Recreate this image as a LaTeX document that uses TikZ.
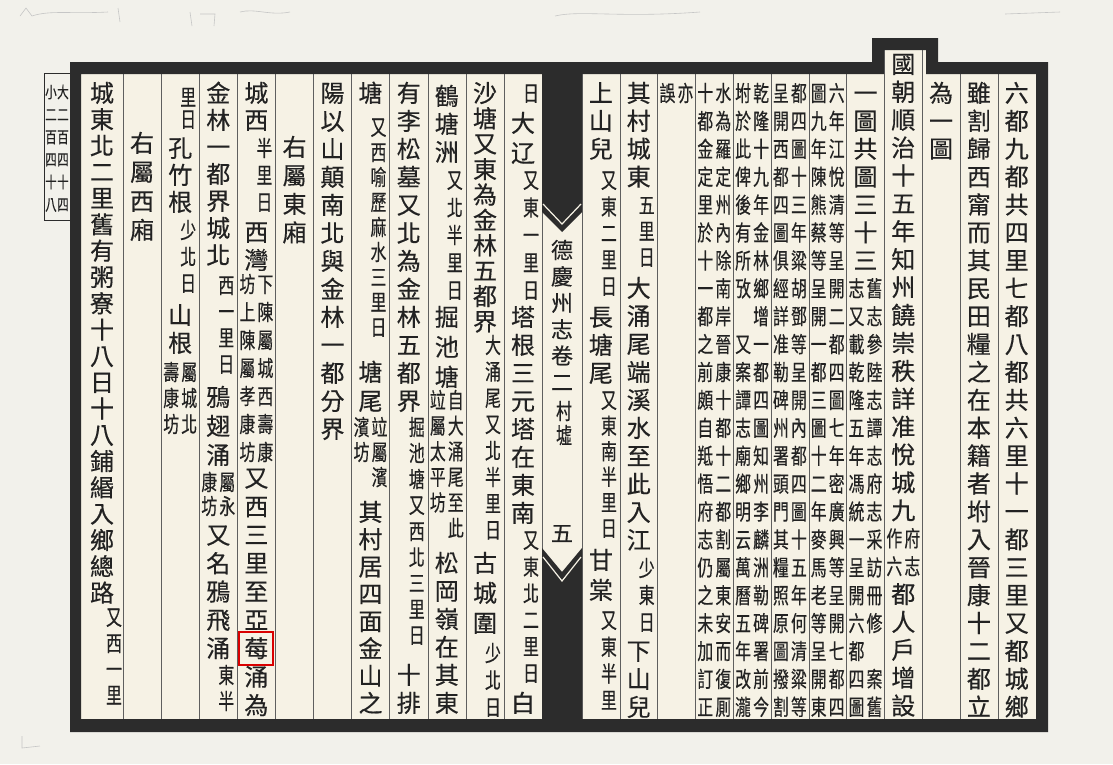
\documentclass[tikz,border=0pt]{standalone}
\usepackage{fontspec}
\newfontfamily\cjk[FakeBold=0.4]{Noto Sans CJK TC}
\newfontfamily\cjkn[FakeStretch=0.72,FakeBold=0.4]{Noto Sans CJK TC}
\usetikzlibrary{calc}
\tikzset{>=latex}
\definecolor{pagebg}{RGB}{242,241,235}
\definecolor{paper}{RGB}{246,242,229}
\definecolor{ink}{RGB}{34,34,34}
\definecolor{framegray}{RGB}{44,44,44}
\definecolor{rulegray}{RGB}{95,95,95}

% vertical column of characters: \vcol[pitch]{x}{y of first}{style}{text}
\newcount\vcn
\def\vcolend{\vcolend}
\newcommand\vcol[5][27.9]{%
  \def\vcp{#1}\def\vcx{#2}\def\vcy{#3}%
  \tikzset{vcur/.style={#4}}%
  \vcolnext#5\vcolend}
\def\vcolnext#1{%
  \ifx#1\vcolend \let\vcolgo\relax
  \else \def\vcolgo{\vcolput{#1}\vcolnext}\fi
  \vcolgo}
\def\vcolput#1{%
  \global\advance\vcn by 1
  \node[vcur] (ch\the\vcn) at (\vcx,\vcy) {#1};
  \pgfmathsetmacro\vcy{\vcy+\vcp}}

\tikzset{
  bigch/.style={font={\cjk\fontsize{24pt}{24pt}\selectfont}, text=ink, inner sep=0pt, text height=21pt, text depth=3pt},
  smallch/.style={font={\cjkn\fontsize{22pt}{22pt}\selectfont}, text=ink, inner sep=0pt, text height=19.4pt, text depth=2.6pt},
  titlech/.style={font={\cjk\fontsize{22pt}{22pt}\selectfont}, text=ink, inner sep=0pt, text height=19.4pt, text depth=2.6pt},
  tinych/.style={font={\cjkn\fontsize{16pt}{16pt}\selectfont}, text=ink, inner sep=0pt, text height=14pt, text depth=2pt},
  colrule/.style={rulegray, line width=0.6pt},
  pencil/.style={gray!45, line width=0.6pt},
  markbox/.style={draw=red!85!black, line width=1.5pt},
}

\begin{document}
\begin{tikzpicture}[x=1pt,y=-1pt]
  \useasboundingbox (0,0) rectangle (1113,764);
  \fill[pagebg] (0,0) rectangle (1113,764);
  % paper inside the frame
  \fill[paper] (81,74) -- (884,74) -- (884,50) -- (926,50) -- (926,74) -- (1036,74) -- (1036,719) -- (81,719) -- cycle;

  % column rules
  \foreach \k in {0,...,11} \draw[colrule] ({123+38.1*\k},74) -- ++(0,645);
  \foreach \k in {0,1,2,3,4,5,6,7,10,11} \draw[colrule] ({582+37.8*\k},74) -- ++(0,645);
  \draw[colrule] (884.4,50) -- (884.4,719);
  \draw[colrule] (922.2,50) -- (922.2,719);

  % thick frame, raised over the honorific column
  \fill[framegray, even odd rule] (70,62) -- (872,62) -- (872,38) -- (938,38) -- (938,62) -- (1048,62) -- (1048,732) -- (70,732) -- cycle
    (81,74) -- (884,74) -- (884,50) -- (926,50) -- (926,74) -- (1036,74) -- (1036,719) -- (81,719) -- cycle;

  % centre strip with the two fish tails
  \fill[framegray] (542,74) -- (582,74) -- (582,212) -- (562,232) -- (542,212) -- cycle;
  \draw[paper, line width=1.2pt] (543,204) -- (562,224) -- (581,204);
  \fill[framegray] (542,719) -- (542,548) -- (562,572) -- (582,548) -- (582,719) -- cycle;
  \draw[paper, line width=1.2pt] (543,557) -- (562,581) -- (581,557);
  \vcol[26.4]{562}{250}{titlech}{德慶州志卷二}
  \vcol[24]{564}{411}{smallch}{村墟}
  \node[titlech] (pageno) at (562,533) {五};

  %% right page
  \vcol{1016.7}{93}{bigch}{六都九都共四里七都八都共六里十一都三里又都城鄉}
  \vcol{978.9}{93}{bigch}{雖割歸西甯而其民田糧之在本籍者坿入晉康十二都立}
  \vcol{941.1}{93}{bigch}{為一圖}
  \vcol{903.3}{64}{bigch}{國朝順治十五年知州饒崇秩詳准悅城九}
  \vcol{912.3}{538.3}{smallch}{府志}
  \vcol{894.3}{538.3}{smallch}{作六}
  \vcol{903.3}{594.1}{bigch}{都人戶增設}
  \vcol{865.5}{93}{bigch}{一圖共圖三十三}
  \vcol{874.5}{288.3}{smallch}{舊志參陸志譚志府志采訪冊修~案舊}
  \vcol{856.5}{288.3}{smallch}{志又載乾隆五年馮統一呈開六都四圖}
  \vcol{836.7}{93}{smallch}{六年江悅清等呈開二都四圖七年密廣興等呈開七都四}
  \vcol{818.7}{93}{smallch}{圖九年陳熊蔡等呈開一都三圖十二年麥馬老等呈開東}
  \vcol{798.9}{93}{smallch}{都四圖十三年粱胡鄧等呈開內都四圖十五年何清粱等}
  \vcol{780.9}{93}{smallch}{呈開西都四圖俱經詳准勒碑州署頭門其糧照原圖撥割}
  \vcol{761.1}{93}{smallch}{乾隆十九年金林鄉增一都四圖知州李麟洲勒碑署前今}
  \vcol{743.1}{93}{smallch}{坿於此俾後有所攷~又案譚志廟鄉明云萬曆五年改瀧}
  \vcol{723.3}{93}{smallch}{水為羅定州內除南岸晉康十都十二都割屬東安而復厠}
  \vcol{705.3}{93}{smallch}{十都金定里於十一都之前頗自羝悟府志仍之未加訂正}
  \vcol{685.5}{93}{smallch}{亦}
  \vcol{667.5}{93}{smallch}{誤}
  \vcol{638.7}{93}{bigch}{其村城東}
  \vcol[26]{646.7}{205}{smallch}{五里日}
  \vcol[28]{638.7}{288}{bigch}{大涌尾端溪水至此入江}
  \vcol[27]{646.7}{568}{smallch}{少東日}
  \vcol[28]{638.7}{651}{bigch}{下山兒}
  \vcol{600.9}{93}{bigch}{上山兒}
  \vcol[26.5]{608.9}{180}{smallch}{又東二里日}
  \vcol[28]{600.9}{317}{bigch}{長塘尾}
  \vcol[25.6]{608.9}{400}{smallch}{又東南半里日}
  \vcol[30]{600.9}{560}{bigch}{甘棠}
  \vcol[26.7]{608.9}{620}{smallch}{又東半里}

  %% left page
  \vcol{531}{93}{smallch}{日}
  \vcol[30]{523}{123}{bigch}{大辽}
  \vcol[27.5]{531}{180}{smallch}{又東一里日}
  \vcol[28]{523}{317}{bigch}{塔根三元塔在東南}
  \vcol[26.6]{531}{540}{smallch}{又東北二里日}
  \vcol{523}{703}{bigch}{白}
  \vcol[25.4]{485}{93}{bigch}{沙塘又東為金林五都界}
  \vcol[26.4]{493}{345}{smallch}{大涌尾又北半里日}
  \vcol[30]{485}{563}{bigch}{古城圍}
  \vcol[27]{493}{653}{smallch}{少北日}
  \vcol[28]{446.8}{96}{bigch}{鶴塘洲}
  \vcol[27.5]{454.8}{180}{smallch}{又北半里日}
  \vcol[30]{446.8}{317}{bigch}{掘池塘}
  \vcol[25.6]{455.8}{400}{smallch}{自大涌尾至此}
  \vcol[25.6]{437.8}{400}{smallch}{竝屬太平坊}
  \vcol[28]{446.8}{563}{bigch}{松岡嶺在其東}
  \vcol[28]{408.8}{93}{bigch}{有李松墓又北為金林五都界}
  \vcol[26]{416.8}{427}{smallch}{掘池塘又西北三里日}
  \vcol[28]{408.8}{675}{bigch}{十排}
  \vcol{370.5}{93}{bigch}{塘}
  \vcol[25]{378.5}{127}{smallch}{又西喻歷麻水三里日}
  \vcol[29]{370.5}{372}{bigch}{塘尾}
  \vcol[25]{379.5}{427}{smallch}{竝屬濱}
  \vcol[25]{361.5}{427}{smallch}{濱坊}
  \vcol[27.3]{370.5}{512}{bigch}{其村居四面金山之}
  \vcol[28]{332.5}{93}{bigch}{陽以山顛南北與金林一都分界}
  \vcol[28.5]{294.5}{147}{bigch}{右屬東廂}
  \vcol[27]{256.4}{93}{bigch}{城西}
  \vcol[27]{264.4}{148}{smallch}{半里日}
  \vcol[28]{256.4}{232}{bigch}{西灣}
  \vcol[28]{265.4}{284}{smallch}{下陳屬城西壽康}
  \vcol[28]{247.4}{284}{smallch}{坊上陳屬孝康坊}
  \vcol[28.4]{256.4}{478}{bigch}{又西三里至亞莓涌為}
  \vcol[27]{218.3}{93}{bigch}{金林一都界城北}
  \vcol[26.3]{226.3}{285}{smallch}{西一里日}
  \vcol[29]{218.3}{397}{bigch}{鴉翅涌}
  \vcol[24]{227.3}{482}{smallch}{屬永}
  \vcol[24]{209.3}{482}{smallch}{康坊}
  \vcol[28.3]{218.3}{535}{bigch}{又名鴉飛涌}
  \vcol[26]{226.3}{675}{smallch}{東半}
  \vcol[22]{188.2}{97}{smallch}{里日}
  \vcol[27]{180.2}{148}{bigch}{孔竹根}
  \vcol[26.5]{188.2}{230}{smallch}{少北日}
  \vcol[28]{180.2}{315}{bigch}{山根}
  \vcol[26]{189.2}{372}{smallch}{屬城北}
  \vcol[26]{171.2}{372}{smallch}{壽康坊}
  \vcol[29]{142}{143}{bigch}{右屬西廂}
  \vcol[26.3]{102}{93}{bigch}{城東北二里舊有粥寮十八日十八鋪緡入鄉總路}
  \vcol[26]{114}{617}{smallch}{又西一里}

  % red mark round one character
  \draw[markbox] (239,632) rectangle (273,665);

  % leaf count box outside the frame
  \draw[framegray, line width=0.8pt] (44,73) rectangle (70,220);
  \vcol[22.5]{63}{92}{tinych}{大二百四十四}
  \vcol[22.5]{51}{92}{tinych}{小二百四十八}

  % faint pencil marks on the margins
  \draw[pencil] (20,16) -- (26,8) -- (32,16) .. controls (50,10) and (70,14) .. (108,12);
  \draw[pencil] (118,8) -- (120,22);
  \draw[pencil] (190,12) -- (192,26) (200,14) -- (215,14) -- (214,26) (240,12) .. controls (255,8) and (270,16) .. (290,12);
  \draw[pencil] (555,16) .. controls (580,10) and (620,18) .. (700,12);
  \draw[pencil] (1005,14) -- (1060,12);
  \draw[pencil] (22,736) -- (22,748) -- (40,746);
\end{tikzpicture}
\end{document}
